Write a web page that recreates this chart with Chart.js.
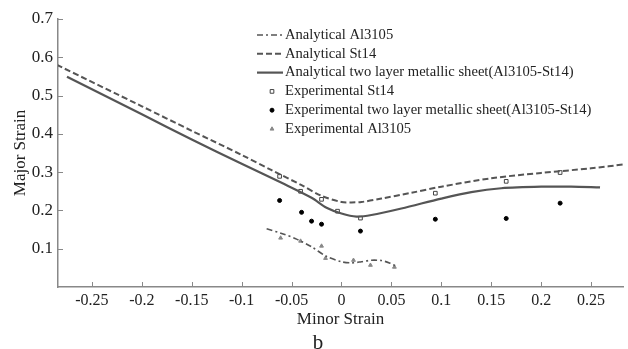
<!DOCTYPE html>
<html>
<head>
<meta charset="utf-8">
<script src="https://cdn.jsdelivr.net/npm/chart.js@4.4.1/dist/chart.umd.min.js"></script>
<style>
  html, body { margin: 0; padding: 0; background: #fff; }
  #wrap { width: 628px; height: 349px; }
</style>
</head>
<body>
<div id="wrap"><canvas id="myChart" width="628" height="349"></canvas></div>
<script>
// tick labels
const xTicks = [-0.25, -0.2, -0.15, -0.1, -0.05, 0, 0.05, 0.1, 0.15, 0.2, 0.25]
const yTicks = [0.1, 0.2, 0.3, 0.4, 0.5, 0.6, 0.7]

// analytical curves
const alX = [-0.075, -0.06, -0.045, -0.03, -0.015, 0, 0.01, 0.02, 0.03, 0.04, 0.048, 0.056]
const alY = [0.152, 0.140, 0.125, 0.105, 0.080, 0.066, 0.063, 0.066, 0.070, 0.069, 0.063, 0.053]

const stX = [-0.285, -0.2, -0.15, -0.1, -0.07, -0.04, -0.02, 0, 0.01, 0.02, 0.04, 0.07, 0.1, 0.15, 0.2, 0.25, 0.285]
const stY = [0.580, 0.472, 0.408, 0.345, 0.305, 0.266, 0.238, 0.222, 0.221, 0.222, 0.231, 0.246, 0.262, 0.284, 0.298, 0.310, 0.321]

const twoX = [-0.275, -0.2, -0.15, -0.1, -0.06, -0.03, -0.015, 0, 0.015, 0.03, 0.06, 0.1, 0.13, 0.16, 0.2, 0.23, 0.259]
const twoY = [0.549, 0.451, 0.385, 0.322, 0.272, 0.233, 0.207, 0.192, 0.184, 0.188, 0.205, 0.231, 0.248, 0.258, 0.262, 0.262, 0.260]

// experimental points
const expStX = [-0.062, -0.041, -0.020, -0.004, 0.019, 0.094, 0.165, 0.219]
const expStY = [0.289, 0.250, 0.229, 0.198, 0.180, 0.245, 0.276, 0.299]

const expTwoX = [-0.062, -0.040, -0.030, -0.020, 0.019, 0.094, 0.165, 0.219]
const expTwoY = [0.226, 0.195, 0.172, 0.164, 0.146, 0.177, 0.179, 0.219]

const expAlX = [-0.061, -0.041, -0.020, -0.016, 0.012, 0.029, 0.053]
const expAlY = [0.128, 0.120, 0.107, 0.075, 0.070, 0.057, 0.052]

const pts = (xs, ys) => xs.map((x, i) => ({ x: x, y: ys[i] }))

const lineGray = "#555555"
const serif = "'Liberation Serif', 'Times New Roman', serif"

const ctx = document.querySelector("#myChart")

// legend inside the plot, drawn from the datasets
const legendPlugin = {
  id: "boxLegend",
  afterDraw(chart) {
    const c = chart.ctx
    c.save()
    c.font = "14.6px " + serif
    c.textBaseline = "middle"
    chart.data.datasets.forEach((ds, i) => {
      const y = 35 + i * 18.8
      if (ds.showLine) {
        c.strokeStyle = ds.borderColor
        c.lineWidth = ds.borderWidth
        c.setLineDash(ds.borderDash || [])
        c.beginPath()
        c.moveTo(257, y)
        c.lineTo(283, y)
        c.stroke()
        c.setLineDash([])
      } else {
        c.fillStyle = ds.pointBackgroundColor
        c.strokeStyle = ds.pointBorderColor
        c.lineWidth = ds.pointBorderWidth
        Chart.helpers.drawPoint(c, {
          pointStyle: ds.pointStyle,
          radius: ds.pointRadius,
          borderWidth: ds.pointBorderWidth
        }, 272, y)
      }
      c.fillStyle = "#222"
      c.fillText(ds.label, 285, y)
    })
    c.restore()
  }
}

// ticks pointing inward plus the "b" caption
const inTicks = {
  id: "inTicks",
  afterDraw(chart) {
    const c = chart.ctx
    const xs = chart.scales.x
    const ys = chart.scales.y
    c.save()
    c.strokeStyle = "#888"
    c.lineWidth = 1
    xs.ticks.forEach(t => {
      const px = Math.round(xs.getPixelForValue(t.value)) + 0.5
      c.beginPath()
      c.moveTo(px, xs.top)
      c.lineTo(px, xs.top - 5)
      c.stroke()
    })
    ys.ticks.forEach(t => {
      const py = Math.round(ys.getPixelForValue(t.value)) + 0.5
      c.beginPath()
      c.moveTo(ys.right, py)
      c.lineTo(ys.right + 5, py)
      c.stroke()
    })
    c.fillStyle = "#222"
    c.font = "21px " + serif
    c.textAlign = "center"
    c.textBaseline = "middle"
    c.fillText("b", 318, 343)
    c.restore()
  }
}

new Chart(ctx, {
  type: "scatter",
  data: {
    datasets: [
      {
        label: "Analytical Al3105",
        data: pts(alX, alY),
        showLine: true,
        borderColor: lineGray,
        borderWidth: 1.6,
        borderDash: [6, 3, 2, 3],
        pointRadius: 0,
        tension: 0.3
      },
      {
        label: "Analytical St14",
        data: pts(stX, stY),
        showLine: true,
        borderColor: lineGray,
        borderWidth: 2,
        borderDash: [6, 3],
        pointRadius: 0,
        tension: 0.3
      },
      {
        label: "Analytical two layer metallic sheet(Al3105-St14)",
        data: pts(twoX, twoY),
        showLine: true,
        borderColor: lineGray,
        borderWidth: 2.2,
        pointRadius: 0,
        tension: 0.3
      },
      {
        label: "Experimental St14",
        data: pts(expStX, expStY),
        showLine: false,
        pointStyle: "rect",
        pointRadius: 2.6,
        pointBorderWidth: 1,
        pointBackgroundColor: "#fff",
        pointBorderColor: "#444"
      },
      {
        label: "Experimental two layer metallic sheet(Al3105-St14)",
        data: pts(expTwoX, expTwoY),
        showLine: false,
        pointStyle: "circle",
        pointRadius: 2,
        pointBorderWidth: 1,
        pointBackgroundColor: "#000",
        pointBorderColor: "#000"
      },
      {
        label: "Experimental Al3105",
        data: pts(expAlX, expAlY),
        showLine: false,
        pointStyle: "triangle",
        pointRadius: 2.2,
        pointBorderWidth: 1,
        pointBackgroundColor: "#888",
        pointBorderColor: "#888"
      }
    ]
  },
  options: {
    responsive: false,
    animation: false,
    layout: { padding: { top: 19, right: 0, bottom: 0, left: 0 } },
    plugins: {
      legend: { display: false },
      tooltip: { enabled: false }
    },
    scales: {
      x: {
        type: "linear",
        min: -0.284,
        max: 0.282,
        afterBuildTicks: (scale) => { scale.ticks = xTicks.map(v => ({ value: v })) },
        afterFit: (scale) => { scale.height = 62 },
        grid: { display: false, drawTicks: false },
        border: { color: "#888", width: 1.5 },
        ticks: {
          padding: 4,
          maxRotation: 0,
          autoSkip: false,
          color: "#222",
          font: { family: serif, size: 16 },
          callback: (v) => String(v)
        },
        title: {
          display: true,
          text: "Minor Strain",
          color: "#222",
          font: { family: serif, size: 17 },
          padding: { top: 0, bottom: 19 }
        }
      },
      y: {
        type: "linear",
        min: 0,
        max: 0.7,
        afterBuildTicks: (scale) => { scale.ticks = yTicks.map(v => ({ value: v })) },
        afterFit: (scale) => { scale.width = 58 },
        grid: { display: false, drawTicks: false },
        border: { color: "#888", width: 1.5 },
        ticks: {
          padding: 5,
          autoSkip: false,
          color: "#222",
          font: { family: serif, size: 17 },
          callback: (v) => String(v)
        },
        title: {
          display: true,
          text: "Major Strain",
          color: "#222",
          font: { family: serif, size: 17 },
          padding: { top: 10, bottom: 0 }
        }
      }
    }
  },
  plugins: [legendPlugin, inTicks]
})
</script>
</body>
</html>
